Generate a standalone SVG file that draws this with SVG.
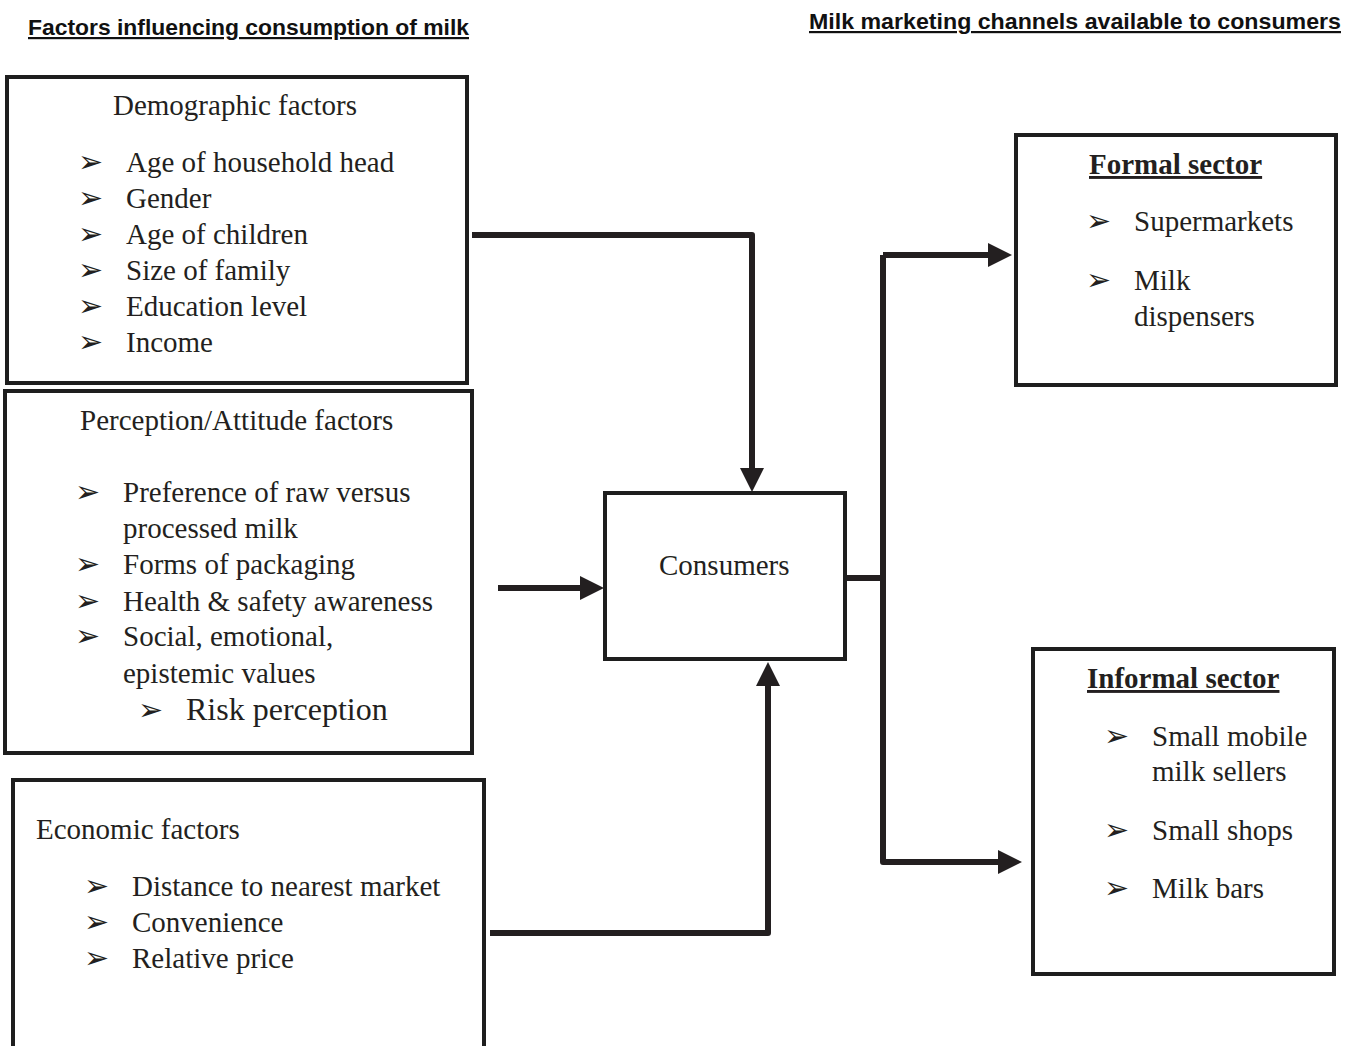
<svg xmlns="http://www.w3.org/2000/svg" width="1347" height="1046" viewBox="0 0 1347 1046">
<style>
.box{fill:#fff;stroke:#1e1e1e;stroke-width:4}
.t{font-family:"Liberation Serif","Times New Roman",serif;font-size:29px;fill:#231f20}
.b{font-family:"DejaVu Sans",sans-serif;font-size:30px;fill:#231f20}
.h{font-family:"Liberation Sans",Arial,sans-serif;font-weight:bold;font-size:22px;fill:#111;text-decoration:underline}
.st{font-family:"Liberation Serif","Times New Roman",serif;font-weight:bold;font-size:29px;fill:#231f20;text-decoration:underline}
.c{fill:none;stroke:#231f20;stroke-width:6;stroke-linejoin:round}
</style>
<defs>
<marker id="arr" markerUnits="userSpaceOnUse" markerWidth="26" markerHeight="26" refX="1" refY="13" orient="auto">
<path d="M0,1 L24,13 L0,25 Z" fill="#231f20"/>
</marker>
</defs>
<rect width="1347" height="1046" fill="#fff"/>
<text class="h" x="28" y="35" textLength="441" lengthAdjust="spacingAndGlyphs">Factors influencing consumption of milk</text>
<text class="h" x="809" y="29" textLength="532" lengthAdjust="spacingAndGlyphs">Milk marketing channels available to consumers</text>

<g id="connectors">
<path class="c" d="M472,235 H752 V469" marker-end="url(#arr)"/>
<path class="c" d="M498,588 H581" marker-end="url(#arr)"/>
<path class="c" d="M490,933 H768 V685" marker-end="url(#arr)"/>
<path class="c" d="M845,578 H883"/>
<path class="c" d="M883,255 V862 H999" marker-end="url(#arr)"/>
<path class="c" d="M883,255 H989" marker-end="url(#arr)"/>
</g>

<g id="demographic">
<rect class="box" x="7" y="77" width="460" height="306"/>
<text class="t" x="113" y="115">Demographic factors</text>
<text class="b" x="78" y="172">➢</text><text class="t" x="126" y="172">Age of household head</text>
<text class="b" x="78" y="208">➢</text><text class="t" x="126" y="208">Gender</text>
<text class="b" x="78" y="244">➢</text><text class="t" x="126" y="244">Age of children</text>
<text class="b" x="78" y="280">➢</text><text class="t" x="126" y="280">Size of family</text>
<text class="b" x="78" y="316">➢</text><text class="t" x="126" y="316">Education level</text>
<text class="b" x="78" y="352">➢</text><text class="t" x="126" y="352">Income</text>
</g>

<g id="perception">
<rect class="box" x="5" y="391" width="467" height="362"/>
<text class="t" x="80" y="430">Perception/Attitude factors</text>
<text class="b" x="75" y="502">➢</text><text class="t" x="123" y="502">Preference of raw versus</text>
<text class="t" x="123" y="538">processed milk</text>
<text class="b" x="75" y="574">➢</text><text class="t" x="123" y="574">Forms of packaging</text>
<text class="b" x="75" y="611">➢</text><text class="t" x="123" y="611">Health &amp; safety awareness</text>
<text class="b" x="75" y="646">➢</text><text class="t" x="123" y="646">Social, emotional,</text>
<text class="t" x="123" y="683">epistemic values</text>
<text class="b" x="138" y="720">➢</text><text class="t" x="186" y="720" style="font-size:32px">Risk perception</text>
</g>

<g id="economic">
<rect class="box" x="13" y="780" width="471" height="280"/>
<text class="t" x="36" y="839">Economic factors</text>
<text class="b" x="84" y="896">➢</text><text class="t" x="132" y="896">Distance to nearest market</text>
<text class="b" x="84" y="932">➢</text><text class="t" x="132" y="932">Convenience</text>
<text class="b" x="84" y="968">➢</text><text class="t" x="132" y="968">Relative price</text>
</g>

<g id="consumers">
<rect class="box" x="605" y="493" width="240" height="166"/>
<text class="t" x="659" y="575">Consumers</text>
</g>

<g id="formal">
<rect class="box" x="1016" y="135" width="320" height="250"/>
<text class="st" x="1089" y="174">Formal sector</text>
<text class="b" x="1086" y="231">➢</text><text class="t" x="1134" y="231">Supermarkets</text>
<text class="b" x="1086" y="290">➢</text><text class="t" x="1134" y="290">Milk</text>
<text class="t" x="1134" y="326">dispensers</text>
</g>

<g id="informal">
<rect class="box" x="1033" y="649" width="301" height="325"/>
<text class="st" x="1087" y="688">Informal sector</text>
<text class="b" x="1104" y="746">➢</text><text class="t" x="1152" y="746">Small mobile</text>
<text class="t" x="1152" y="781">milk sellers</text>
<text class="b" x="1104" y="840">➢</text><text class="t" x="1152" y="840">Small shops</text>
<text class="b" x="1104" y="898">➢</text><text class="t" x="1152" y="898">Milk bars</text>
</g>
</svg>
